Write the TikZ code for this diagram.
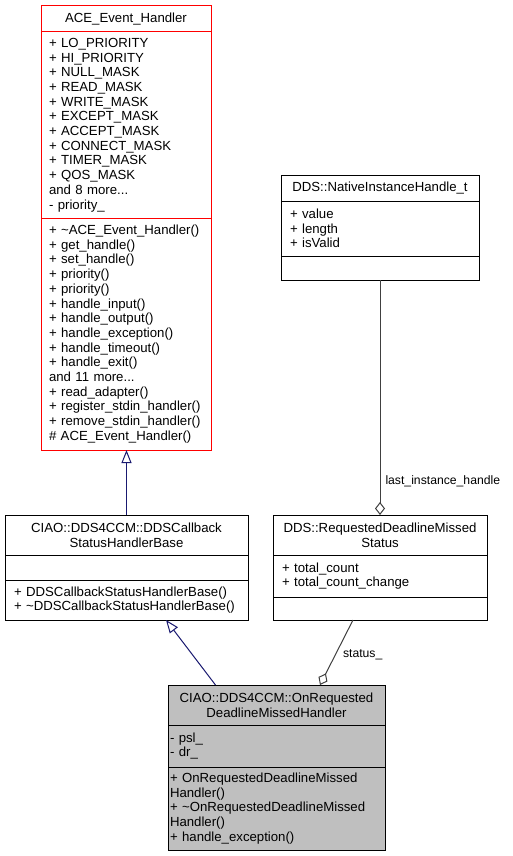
\documentclass[tikz,border=0pt]{standalone}
\usepackage{fontspec}
\usetikzlibrary{arrows.meta,calc}
\newfontfamily\umlfont{Liberation Sans}
\newcommand\umltext{\umlfont\fontsize{13.2}{14.7}\selectfont}
\newcommand\edgetext{\umlfont\fontsize{12.2}{14}\selectfont}
\definecolor{inhcolor}{HTML}{191970}
\definecolor{usecolor}{HTML}{404040}
\definecolor{hlfill}{HTML}{BFBFBF}

\tikzset{
  part/.style 2 args={draw=black, fill=white, rectangle, anchor=north west,
    outer sep=0pt, inner ysep=0pt, inner xsep=#1, text width=#2,
    align=left, font=\umltext, line width=1pt},
  head/.style={align=center},
  inherit/.style={draw=inhcolor, line width=1pt, -{Triangle[open,length=13pt,width=10pt]}},
  aggr/.style={draw=usecolor, line width=1pt, -{Diamond[open,length=13pt,width=10pt]}},
  lbl/.style={font=\edgetext, inner sep=0pt, anchor=west}
}

\begin{document}
\begin{tikzpicture}[x=1pt,y=-1pt]
    \fill[white] (0,0) rectangle (512,856);
    \useasboundingbox (0,0) rectangle (512,856);

    % ACE_Event_Handler
    \node[part={8}{154}, head, draw=red, minimum height=26] (aceT) at (41,6) {ACE\_Event\_Handler};
    \node[part={8}{154}, draw=red, minimum height=186] (aceA) at (aceT.south west)
        {+ LO\_PRIORITY\\+ HI\_PRIORITY\\+ NULL\_MASK\\+ READ\_MASK\\+ WRITE\_MASK\\+ EXCEPT\_MASK\\
         + ACCEPT\_MASK\\+ CONNECT\_MASK\\+ TIMER\_MASK\\+ QOS\_MASK\\and 8 more...\\- priority\_};
    \node[part={8}{154}, draw=red, minimum height=232] (aceM) at (aceA.south west)
        {+ \textasciitilde ACE\_Event\_Handler()\\+ get\_handle()\\+ set\_handle()\\+ priority()\\+ priority()\\
         + handle\_input()\\+ handle\_output()\\+ handle\_exception()\\+ handle\_timeout()\\+ handle\_exit()\\
         and 11 more...\\+ read\_adapter()\\+ register\_stdin\_handler()\\+ remove\_stdin\_handler()\\
         \# ACE\_Event\_Handler()};

    % DDS::NativeInstanceHandle_t
    \node[part={9}{180}, head, minimum height=26] (natT) at (281,175) {DDS::NativeInstanceHandle\_t};
    \node[part={9}{180}, minimum height=55] (natA) at (natT.south west) {+ value\\+ length\\+ isValid};
    \node[part={9}{180}, minimum height=24] (natM) at (natA.south west) {};

    % CIAO::DDS4CCM::DDSCallbackStatusHandlerBase
    \node[part={9}{225}, head, minimum height=40] (cbT) at (5,515) {CIAO::DDS4CCM::DDSCallback\\StatusHandlerBase};
    \node[part={9}{225}, minimum height=25] (cbA) at (cbT.south west) {};
    \node[part={9}{225}, minimum height=40] (cbM) at (cbA.south west)
        {+ DDSCallbackStatusHandlerBase()\\+ \textasciitilde DDSCallbackStatusHandlerBase()};

    % DDS::RequestedDeadlineMissedStatus
    \node[part={9}{196}, head, minimum height=40] (rqT) at (273,515) {DDS::RequestedDeadlineMissed\\Status};
    \node[part={9}{196}, minimum height=42] (rqA) at (rqT.south west) {+ total\_count\\+ total\_count\_change};
    \node[part={9}{196}, minimum height=23] (rqM) at (rqA.south west) {};

    % CIAO::DDS4CCM::OnRequestedDeadlineMissedHandler
    \node[part={2}{213}, head, fill=hlfill, minimum height=40] (onT) at (168,685) {CIAO::DDS4CCM::OnRequested\\DeadlineMissedHandler};
    \node[part={2}{213}, fill=hlfill, minimum height=42] (onA) at (onT.south west) {- psl\_\\- dr\_};
    \node[part={2}{213}, fill=hlfill, minimum height=83] (onM) at (onA.south west)
        {+ OnRequestedDeadlineMissed\\Handler()\\+ \textasciitilde OnRequestedDeadlineMissed\\Handler()\\+ handle\_exception()};

    % edges
    \draw[inherit] (cbT.north) -- (cbT.north |- aceM.south);
    \draw[inherit] ($(onT.north west)+(47.5,0)$) -- ($(cbM.south west)+(161,0)$);
    \draw[aggr] (natM.south) -- (rqT.north) node[lbl, pos=0.858, xshift=5pt] {last\_instance\_handle};
    \draw[aggr] ($(rqM.south west)+(80,0)$) -- ($(onT.north west)+(152,0)$) node[lbl, pos=0.53, xshift=7pt] {status\_};
\end{tikzpicture}
\end{document}
